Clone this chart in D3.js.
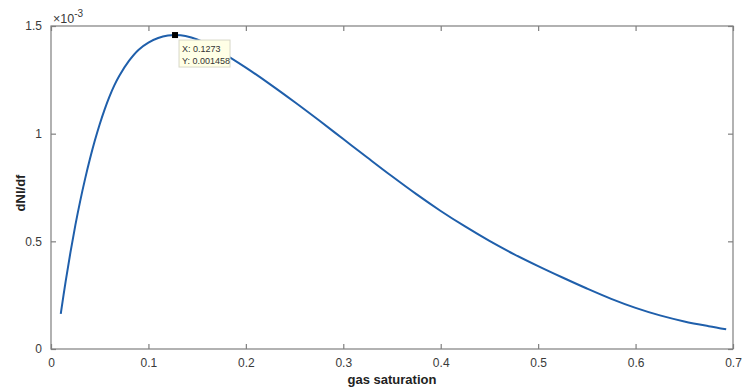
<!DOCTYPE html>
<html>
<head>
<meta charset="utf-8">
<script src="https://cdn.jsdelivr.net/npm/d3@7"></script>
<style>
  html, body { margin: 0; padding: 0; background: #fff; }
  svg text { font-family: "Liberation Sans", Arial, Helvetica, sans-serif; }
</style>
</head>
<body>
<svg id="chart" width="742" height="390"></svg>
<script>
// ---- data (y values in units of 1e-3) ----
const gasSaturation = [0.010, 0.015, 0.020, 0.025, 0.030, 0.035, 0.040, 0.045, 0.050, 0.055,
  0.060, 0.065, 0.070, 0.080, 0.090, 0.100, 0.110, 0.120, 0.1273, 0.138, 0.150, 0.175,
  0.200, 0.225, 0.250, 0.275, 0.300, 0.325, 0.350, 0.375, 0.400, 0.425, 0.450, 0.475,
  0.500, 0.525, 0.550, 0.575, 0.600, 0.625, 0.650, 0.675, 0.693];
const dNldf = [0.163, 0.313, 0.450, 0.575, 0.688, 0.790, 0.883, 0.968, 1.044, 1.112,
  1.172, 1.224, 1.268, 1.338, 1.390, 1.423, 1.444, 1.4555, 1.458, 1.454, 1.438, 1.378,
  1.307, 1.229, 1.147, 1.062, 0.975, 0.888, 0.802, 0.719, 0.641, 0.569, 0.502, 0.441,
  0.385, 0.332, 0.281, 0.233, 0.191, 0.156, 0.128, 0.106, 0.092];
const xTicks = [0, 0.1, 0.2, 0.3, 0.4, 0.5, 0.6, 0.7];
const xTickLabels = ["0", "0.1", "0.2", "0.3", "0.4", "0.5", "0.6", "0.7"];
const yTicks = [0, 0.5, 1, 1.5];
const yTickLabels = ["0", "0.5", "1", "1.5"];
const exponentLabel = "-3";
const xLabel = "gas saturation";
const yLabel = "dNl/df";
const tipPoint = { x: 0.1273, y: 1.458 };
const tipLines = ["X: 0.1273", "Y: 0.001458"];

(function () {
const svg = d3.select("#chart");
const mLeft = 51, mRight = 733, mTop = 26, mBottom = 349;
const x = d3.scaleLinear().domain([0, 0.7]).range([mLeft, mRight]);
const y = d3.scaleLinear().domain([0, 1.5]).range([mBottom, mTop]);
const axisColor = "#7f7f7f";
const textColor = "#3a3a3a";

const g = svg.append("g");

g.append("rect").attr("x", mLeft).attr("y", mTop).attr("width", mRight - mLeft).attr("height", mBottom - mTop)
  .attr("fill", "none").attr("stroke", axisColor).attr("stroke-width", 1.2);

function styleAxis(sel) {
  sel.select(".domain").remove();
  sel.selectAll(".tick line").attr("stroke", axisColor).attr("stroke-width", 1.2);
  sel.selectAll(".tick text").attr("fill", textColor).style("font-size", "12px");
}

g.append("g").attr("transform", `translate(0,${mBottom})`)
  .call(d3.axisBottom(x).tickValues(xTicks).tickSizeInner(-5).tickSizeOuter(0).tickPadding(9)
    .tickFormat((d, i) => xTickLabels[i]))
  .call(styleAxis);
g.append("g").attr("transform", `translate(0,${mTop})`)
  .call(d3.axisTop(x).tickValues(xTicks).tickSizeInner(-5).tickSizeOuter(0).tickFormat(""))
  .call(styleAxis);
g.append("g").attr("transform", `translate(${mLeft},0)`)
  .call(d3.axisLeft(y).tickValues(yTicks).tickSizeInner(-5).tickSizeOuter(0).tickPadding(9)
    .tickFormat((d, i) => yTickLabels[i]))
  .call(styleAxis);
g.append("g").attr("transform", `translate(${mRight},0)`)
  .call(d3.axisRight(y).tickValues(yTicks).tickSizeInner(-5).tickSizeOuter(0).tickFormat(""))
  .call(styleAxis);

// exponent
const ex = g.append("text").attr("x", mLeft + 2).attr("y", mTop - 3).attr("fill", textColor)
  .style("font-size", "12.5px");
ex.append("tspan").text("\u00d710");
ex.append("tspan").attr("dy", -6).style("font-size", "10px").text(exponentLabel);

// axis labels
g.append("text").attr("x", (mLeft + mRight) / 2).attr("y", 384).attr("text-anchor", "middle")
  .attr("fill", "#222").style("font-size", "13px").style("font-weight", "bold").text(xLabel);
g.append("text").attr("transform", `translate(25,193) rotate(-90)`).attr("text-anchor", "middle")
  .attr("fill", "#222").style("font-size", "13px").style("font-weight", "bold").text(yLabel);

// curve
const pts = gasSaturation.map((v, i) => [v, dNldf[i]]);
g.append("path").datum(pts)
  .attr("d", d3.line().x(d => x(d[0])).y(d => y(d[1])).curve(d3.curveCatmullRom.alpha(0.5)))
  .attr("fill", "none").attr("stroke", "#1f5fab").attr("stroke-width", 2);

// datatip
const tx = x(tipPoint.x), ty = y(tipPoint.y);
g.append("rect").attr("x", tx + 4).attr("y", ty + 5).attr("width", 51).attr("height", 27)
  .attr("fill", "#ffffe6").attr("stroke", "#d8d8c8").attr("stroke-width", 1);
tipLines.forEach((t, i) => {
  g.append("text").attr("x", tx + 7).attr("y", ty + 17 + i * 12).attr("fill", "#333")
    .style("font-size", "9px").text(t);
});
g.append("rect").attr("x", tx - 3).attr("y", ty - 3).attr("width", 6).attr("height", 6).attr("fill", "#000");
})();
</script>
</body>
</html>
